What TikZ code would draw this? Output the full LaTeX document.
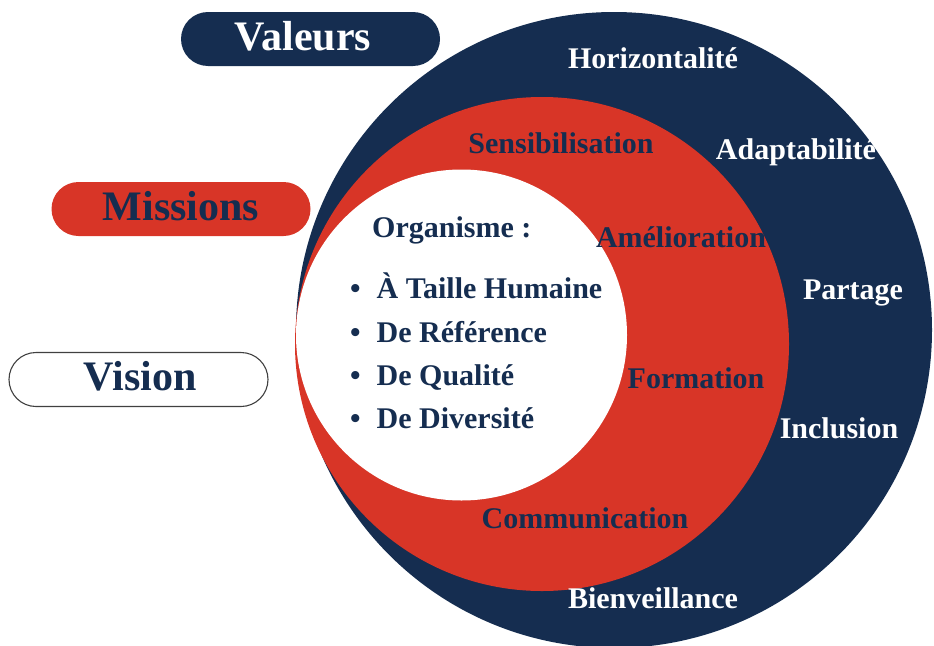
\documentclass[tikz,border=0pt]{standalone}
\usepackage{fontspec}
\setmainfont{Liberation Serif}
\definecolor{navy}{RGB}{21,45,80}
\definecolor{rouge}{RGB}{216,53,39}
\tikzset{
  ring/.style={circle, inner sep=0pt, draw=none},
  word/.style={anchor=base, inner sep=0pt, font=\bfseries\fontsize{30}{36}\selectfont},
  pill/.style={rounded corners=27pt, minimum width=259pt, minimum height=54pt, inner sep=0pt},
  pilltext/.style={anchor=base, inner sep=0pt, font=\bfseries\fontsize{42}{48}\selectfont},
  listline/.style={anchor=base west, inner sep=0pt, text=navy, font=\bfseries\fontsize{30}{36}\selectfont}
}
\begin{document}
\begin{tikzpicture}[x=1pt,y=-1pt]
\useasboundingbox (0,0) rectangle (934,645);
\clip (0,0) rectangle (934,645);
% circles
\node[ring, fill=navy, minimum size=636pt] (valring) at (614,330) {};
\node[ring, fill=rouge, minimum size=494pt] (misring) at (542,344) {};
\node[ring, fill=white, minimum size=331pt] (visring) at (461.5,335) {};
% pills
\node[pill, fill=navy] (valpill) at (310.5,39) {};
\node[pilltext, text=white] (valtxt) at (303,50) {Valeurs};
\node[pill, fill=rouge] (mispill) at (181,209) {};
\node[pilltext, text=navy] (mistxt) at (181,220) {Missions};
\node[pill, fill=white, draw=black!75, line width=1.1pt] (vispill) at (138.5,379.5) {};
\node[pilltext, text=navy] (vistxt) at (140,390) {Vision};
% values (outer ring)
\node[word, text=white] (v1) at (653,68) {Horizontalité};
\node[word, text=white] (v2) at (796,159) {Adaptabilité};
\node[word, text=white] (v3) at (853,299) {Partage};
\node[word, text=white] (v4) at (839,438) {Inclusion};
\node[word, text=white] (v5) at (653,608) {Bienveillance};
% missions (red ring)
\node[word, text=navy] (m1) at (561,153) {Sensibilisation};
\node[word, text=navy] (m2) at (681,247) {Amélioration};
\node[word, text=navy] (m3) at (696,388) {Formation};
\node[word, text=navy] (m4) at (585,528) {Communication};
% vision (inner circle)
\node[listline] (org) at (372,237) {Organisme :};
\node[listline] (b1) at (350,298) {•\hspace{16pt}À Taille Humaine};
\node[listline] (b2) at (350,342) {•\hspace{16pt}De Référence};
\node[listline] (b3) at (350,385) {•\hspace{16pt}De Qualité};
\node[listline] (b4) at (350,428) {•\hspace{16pt}De Diversité};
\end{tikzpicture}
\end{document}
